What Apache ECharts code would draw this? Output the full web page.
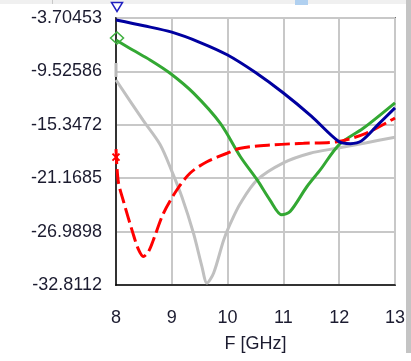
<!DOCTYPE html>
<html>
<head>
<meta charset="utf-8">
<script src="https://cdn.jsdelivr.net/npm/echarts@6/dist/echarts.min.js"></script>
<style>
html,body{margin:0;padding:0;background:#fff;}
#chart{width:411px;height:361px;}
</style>
</head>
<body>
<div id="chart"></div>
<script>
// ---- data ----
const xTicks = [8, 9, 10, 11, 12, 13];
const yTicks = [-32.8112, -26.9898, -21.1685, -15.3472, -9.52586, -3.70453];
const yTickLabels = ['-32.8112', '-26.9898', '-21.1685', '-15.3472', '-9.52586', '-3.70453'];
const xName = 'F [GHz]';

const blueFreq = [8.0, 8.5, 9.0, 9.5, 10.0, 10.5, 11.0, 11.5, 12.0, 12.2, 12.4, 12.7, 13.0];
const blueDb   = [-3.92, -4.55, -5.25, -6.35, -7.74, -9.65, -11.88, -14.4, -17.2, -17.4, -17.1, -15.3, -13.5];

const greenFreq = [8.0, 8.3, 8.61, 8.97, 9.39, 9.87, 10.23, 10.53, 10.76, 10.97, 11.12, 11.42, 11.66, 12.0, 12.43, 13.0];
const greenDb   = [-6.1, -7.2, -8.28, -9.73, -11.9, -15.2, -18.83, -21.36, -23.55, -25.15, -24.8, -22.1, -20.27, -17.5, -15.73, -12.95];

const grayFreq = [8.0, 8.49, 8.79, 9.0, 9.18, 9.39, 9.54, 9.63, 9.75, 9.93, 10.05, 10.23, 10.53, 11.0, 11.48, 11.96, 12.49, 13.0];
const grayDb   = [-10.46, -14.9, -17.5, -20.4, -23.2, -27.2, -30.8, -32.6, -31.5, -27.9, -26.1, -23.9, -21.36, -19.5, -18.45, -17.9, -17.3, -16.7];

const redFreq = [8.0, 8.04, 8.13, 8.3, 8.4, 8.49, 8.58, 8.67, 8.85, 9.09, 9.33, 9.63, 9.99, 10.23, 10.76, 11.36, 11.96, 12.49, 13.0];
const redDb   = [-18.0, -21.5, -23.6, -27.1, -28.9, -29.7, -29.2, -27.9, -25.0, -22.45, -20.6, -19.37, -18.45, -17.9, -17.55, -17.36, -17.2, -16.25, -14.6];

// ---- build ----
function pairs(xs, ys, firstItem) {
  return xs.map((x, i) => i === 0 ? Object.assign({value: [x, ys[i]]}, firstItem) : [x, ys[i]]);
}
const textColor = '#1c1c30';
const font = 'Liberation Sans';

const chart = echarts.init(document.getElementById('chart'), null, {renderer: 'canvas'});
chart.setOption({
  animation: false,
  backgroundColor: '#ffffff',
  grid: {left: 116, right: 16, top: 18, bottom: 76, show: true, borderColor: '#000', borderWidth: 1.5, backgroundColor: 'transparent'},
  xAxis: {
    type: 'value', min: 8, max: 13, interval: 1,
    name: xName, nameLocation: 'middle', nameGap: 50,
    nameTextStyle: {color: textColor, fontFamily: font, fontSize: 18},
    axisLine: {show: true, onZero: false, lineStyle: {color: '#000', width: 1.5}},
    axisTick: {show: false},
    axisLabel: {color: textColor, fontFamily: font, fontSize: 18, margin: 24},
    splitLine: {show: true, lineStyle: {color: '#c8c8c8', width: 2}}
  },
  yAxis: {
    type: 'value', min: yTicks[0], max: yTicks[yTicks.length - 1],
    axisLine: {show: true, onZero: false, lineStyle: {color: '#000', width: 1.5}},
    axisTick: {show: false, customValues: yTicks},
    axisLabel: {
      color: textColor, fontFamily: font, fontSize: 18, margin: 14,
      customValues: yTicks,
      formatter: function (v) {
        let best = 0;
        yTicks.forEach((t, i) => { if (Math.abs(t - v) < Math.abs(yTicks[best] - v)) best = i; });
        return yTickLabels[best];
      }
    },
    splitLine: {show: true, lineStyle: {color: '#c8c8c8', width: 2}}
  },
  series: [
    {
      type: 'line', z: 3, smooth: 0.3, symbol: 'none', showSymbol: true,
      lineStyle: {color: '#c0c0c0', width: 3}, itemStyle: {color: '#b8b8b8'},
      data: pairs(grayFreq, grayDb, {symbol: 'rect', symbolSize: [3, 14], symbolOffset: [0, -10], itemStyle: {color: '#b8b8b8'}})
    },
    {
      type: 'line', z: 4, smooth: 0.3, symbol: 'none', showSymbol: true,
      lineStyle: {color: '#33a833', width: 3}, itemStyle: {color: '#33a833'},
      data: pairs(greenFreq, greenDb, {symbol: 'diamond', symbolSize: [13, 12], symbolOffset: [1, -2], itemStyle: {color: 'rgba(255,255,255,0)', borderColor: '#40b040', borderWidth: 1.5}})
    },
    {
      type: 'line', z: 5, smooth: 0.3, symbol: 'none', showSymbol: true,
      lineStyle: {color: '#ff0000', width: 3, type: [15, 5]}, itemStyle: {color: '#ff0000'},
      data: pairs(redFreq, redDb, {symbol: 'path://M0,0L10,10M10,0L0,10', symbolSize: 7, symbolOffset: [0, 8], itemStyle: {color: 'rgba(0,0,0,0)', borderColor: '#ff0000', borderWidth: 2}})
    },
    {
      type: 'line', z: 6, smooth: 0.3, symbol: 'none', showSymbol: true,
      lineStyle: {color: '#0000a0', width: 3}, itemStyle: {color: '#0000a0'},
      data: pairs(blueFreq, blueDb, {symbol: 'triangle', symbolRotate: 180, symbolSize: [11, 9], symbolOffset: [1, -13], itemStyle: {color: '#ffffff', borderColor: '#2020c0', borderWidth: 1.5}})
    }
  ],
  graphic: [
    {type: 'rect', left: 0, top: 0, shape: {width: 411, height: 4}, style: {fill: '#f0f0f0'}, silent: true},
    {type: 'rect', left: 52, top: 0, shape: {width: 1, height: 4}, style: {fill: '#c8c8c8'}, silent: true},
    {type: 'rect', left: 295, top: 0, shape: {width: 13, height: 5}, style: {fill: '#b0d0f0'}, silent: true},
    {type: 'rect', left: 406, top: 0, shape: {width: 5, height: 353}, style: {fill: '#c4c4c4'}, silent: true}
  ]
});
</script>
</body>
</html>
